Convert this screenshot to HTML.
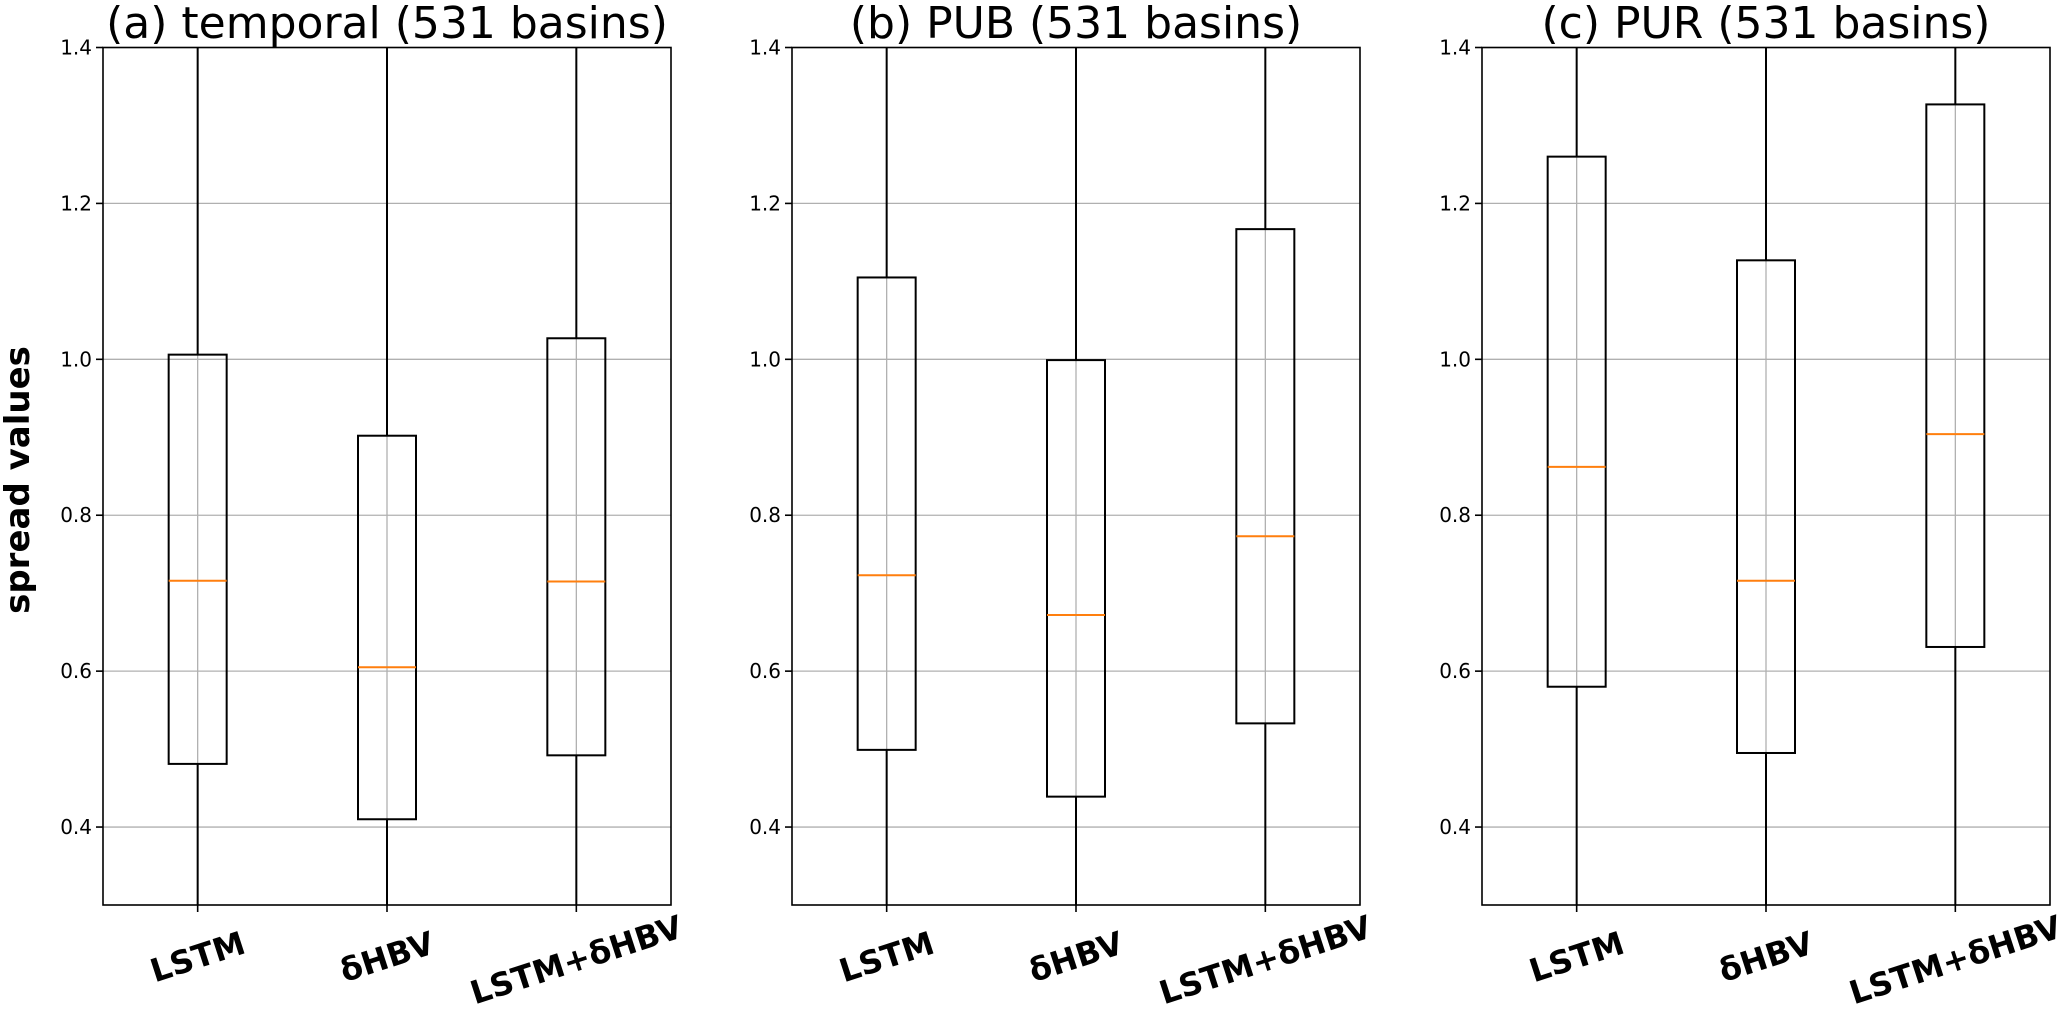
<!DOCTYPE html>
<html><head><meta charset="utf-8"><style>
html,body{margin:0;padding:0;background:#fff;overflow:hidden;}
svg{display:block;font-family:"DejaVu Sans","Liberation Sans",sans-serif;}
</style></head><body>
<svg id="chart" width="2067" height="1011" viewBox="0 0 2067 1011"></svg>
<script>
const panelTitles = ["(a) temporal (531 basins)", "(b) PUB (531 basins)", "(c) PUR (531 basins)"];
const categories = ["LSTM", "δHBV", "LSTM+δHBV"];
const q1Values = [[0.481, 0.410, 0.492], [0.499, 0.439, 0.533], [0.580, 0.495, 0.631]];
const medianValues = [[0.716, 0.605, 0.715], [0.723, 0.672, 0.773], [0.862, 0.716, 0.904]];
const q3Values = [[1.006, 0.902, 1.027], [1.105, 0.999, 1.167], [1.260, 1.127, 1.327]];
const whiskerLow = [[0.05, 0.02, 0.06], [0.05, 0.02, 0.08], [0.08, 0.04, 0.10]];
const whiskerHigh = [[1.9, 1.7, 1.9], [2.0, 1.8, 2.1], [2.3, 2.0, 2.4]];
const yTicks = [0.4, 0.6, 0.8, 1.0, 1.2, 1.4];
const yTickLabels = ["0.4", "0.6", "0.8", "1.0", "1.2", "1.4"];

const NS = "http://www.w3.org/2000/svg";
const svg = document.getElementById("chart");
const panelLeft = [103, 792, 1482];
const pw = 568, plotTop = 47.5, plotBottom = 905;
const yMin = 0.3, yMax = 1.4;
function yScale(v){ return plotBottom - (v - yMin) / (yMax - yMin) * (plotBottom - plotTop); }
function xScale(p, i){ return panelLeft[p] + pw * (2 * i + 1) / 6; }
function mk(tag, attrs, parent){
  const e = document.createElementNS(NS, tag);
  for (const k in attrs) e.setAttribute(k, attrs[k]);
  (parent || svg).appendChild(e);
  return e;
}
const defs = mk("defs", {});
panelTitles.forEach((t, p) => {
  const cp = mk("clipPath", {id: "clip" + p}, defs);
  mk("rect", {x: panelLeft[p], y: plotTop, width: pw, height: plotBottom - plotTop}, cp);
});

panelTitles.forEach((title, p) => {
  const g = mk("g", {});
  
  
  const L = panelLeft[p], R = L + pw;
  const plot = mk("g", {"clip-path": "url(#clip" + p + ")"}, g);
  yTicks.forEach(v => {
    const gl = mk("line", {x1: L, x2: R, y1: yScale(v), y2: yScale(v), stroke: "#b0b0b0", "stroke-width": 1.3}, plot);
    
    
  });
  categories.forEach((c, i) => {
    const vl = mk("line", {x1: xScale(p, i), x2: xScale(p, i), y1: plotTop, y2: plotBottom, stroke: "#b0b0b0", "stroke-width": 1.3}, plot);
    
    
  });
  categories.forEach((c, i) => {
    const cx = xScale(p, i), hw = 29;
    const bg = mk("g", {}, plot);
    
    
    mk("line", {x1: cx, x2: cx, y1: yScale(q3Values[p][i]), y2: yScale(whiskerHigh[p][i]), stroke: "#000", "stroke-width": 2}, bg);
    mk("line", {x1: cx, x2: cx, y1: yScale(q1Values[p][i]), y2: yScale(whiskerLow[p][i]), stroke: "#000", "stroke-width": 2}, bg);
    mk("rect", {x: cx - hw, y: yScale(q3Values[p][i]), width: 2 * hw, height: yScale(q1Values[p][i]) - yScale(q3Values[p][i]), fill: "none", stroke: "#000", "stroke-width": 2}, bg);
    const md = mk("line", {x1: cx - hw, x2: cx + hw, y1: yScale(medianValues[p][i]), y2: yScale(medianValues[p][i]), stroke: "#ff7f0e", "stroke-width": 2}, bg);
    
    
  });
  const fr = mk("rect", {x: L, y: plotTop, width: pw, height: plotBottom - plotTop, fill: "none", stroke: "#000", "stroke-width": 1.6}, g);
  
  
  yTicks.forEach((v, k) => {
    mk("line", {x1: L - 7, x2: L, y1: yScale(v), y2: yScale(v), stroke: "#000", "stroke-width": 1.6}, g);
    const t = mk("text", {x: L - 11, y: yScale(v) + 7, "text-anchor": "end", "font-size": 20, fill: "#000"}, g);
    t.textContent = yTickLabels[k];
    
    
  });
  categories.forEach((c, i) => {
    const cx = xScale(p, i);
    mk("line", {x1: cx, x2: cx, y1: plotBottom, y2: plotBottom + 7, stroke: "#000", "stroke-width": 1.6}, g);
    const cy = 957 + (i === 2 ? 3 : 0);
    const t = mk("text", {x: cx, y: cy, "text-anchor": "middle", "dominant-baseline": "central", "font-size": 32, "font-weight": "bold", fill: "#000", transform: "rotate(-18 " + cx + " " + cy + ")"}, g);
    t.textContent = c;
    
    
  });
  const tt = mk("text", {x: L + pw / 2, y: 38, "text-anchor": "middle", "font-size": 44, fill: "#000"}, g);
  tt.textContent = title;
  
  
});
const yl = mk("text", {x: 18, y: 480, "text-anchor": "middle", "dominant-baseline": "central", "font-size": 34, "font-weight": "bold", fill: "#000", transform: "rotate(-90 18 480)"});
yl.textContent = "spread values";


</script>
</body></html>
